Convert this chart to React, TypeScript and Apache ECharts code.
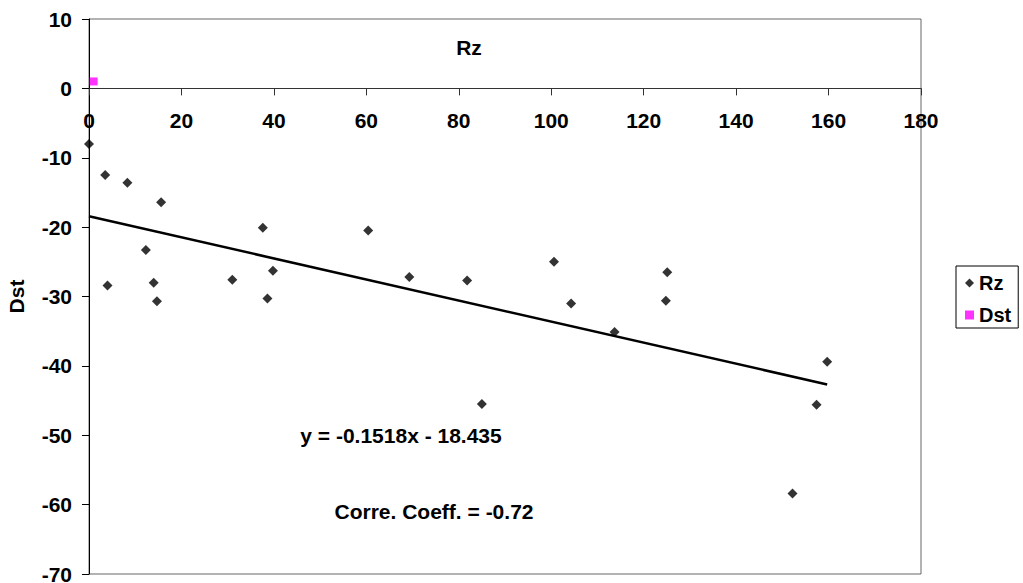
import React, { useEffect, useRef } from "react";
import * as echarts from "echarts";

// Rz (x) vs Dst (y) scatter points
const rzPoints: [number, number][] = [
  [0, -8.0],
  [3.5, -12.5],
  [8.3, -13.6],
  [15.6, -16.4],
  [12.3, -23.3],
  [4.0, -28.4],
  [14.0, -28.0],
  [14.7, -30.7],
  [31.0, -27.6],
  [37.6, -20.1],
  [38.6, -30.3],
  [39.8, -26.3],
  [60.4, -20.5],
  [69.3, -27.2],
  [81.8, -27.7],
  [85.0, -45.5],
  [100.6, -25.0],
  [104.3, -31.0],
  [113.7, -35.1],
  [124.8, -30.6],
  [125.1, -26.5],
  [152.2, -58.4],
  [157.4, -45.6],
  [159.7, -39.4],
];

const dstPoints: [number, number][] = [[1, 1]];

// Linear trend line endpoints (y = -0.1518x - 18.435)
const trendPoints: [number, number][] = [
  [0, -18.435],
  [159.7, -42.68],
];

const seriesNames = ["Rz", "Dst"];
const xAxisTitle = "Rz";
const yAxisTitle = "Dst";
const equationLabel = "y = -0.1518x - 18.435";
const corrLabel = "Corre. Coeff. = -0.72";

const FONT = 'Arial, "Liberation Sans", sans-serif';

// layout
const GRID_TOP = 19;
const GRID_H = 555;
const Y_MIN = -70;
const Y_MAX = 10;
const ZERO_OFFSET = -(GRID_H * (0 - Y_MIN)) / (Y_MAX - Y_MIN); // move x-axis up to y = 0

export default function App() {
  const ref = useRef<HTMLDivElement>(null);

  useEffect(() => {
    document.body.style.margin = "0";
    if (!ref.current) return;
    const chart = echarts.init(ref.current, null, { renderer: "svg" });
    const textBase = {
      fontFamily: FONT,
      fontWeight: "bold" as const,
      fontSize: 21,
      fill: "#000",
    };
    chart.setOption({
      animation: false,
      backgroundColor: "#fff",
      grid: {
        left: 89,
        top: GRID_TOP,
        width: 832,
        height: GRID_H,
        show: true,
        borderColor: "#666",
        borderWidth: 1,
        containLabel: false,
        outerBoundsMode: "none",
      },
      legend: {
        data: seriesNames,
        orient: "vertical",
        left: 956,
        top: 266,
        padding: [7, 7, 3, 9],
        itemGap: 12,
        itemWidth: 9,
        itemHeight: 9,
        itemTextGap: 9,
        borderColor: "#000",
        borderWidth: 1,
        backgroundColor: "#fff",
        textStyle: {
          fontFamily: FONT,
          fontWeight: "bold",
          fontSize: 20,
          color: "#000",
          lineHeight: 20,
        },
      },
      xAxis: {
        type: "value",
        position: "bottom",
        offset: ZERO_OFFSET,
        min: 0,
        max: 180,
        interval: 20,
        axisLine: { show: true, onZero: false, lineStyle: { color: "#333", width: 1 } },
        axisTick: { show: true, length: 7, lineStyle: { color: "#333" } },
        axisLabel: {
          margin: 22,
          fontFamily: FONT,
          fontWeight: "bold",
          fontSize: 21,
          color: "#000",
        },
        splitLine: { show: false },
      },
      yAxis: {
        type: "value",
        min: Y_MIN,
        max: Y_MAX,
        interval: 10,
        name: yAxisTitle,
        nameLocation: "middle",
        nameRotate: 90,
        nameGap: 62,
        nameTextStyle: {
          fontFamily: FONT,
          fontWeight: "bold",
          fontSize: 21,
          color: "#000",
        },
        axisLine: { show: true, onZero: false, lineStyle: { color: "#000", width: 1 } },
        axisTick: { show: true, length: 7, lineStyle: { color: "#000" } },
        axisLabel: {
          margin: 17,
          fontFamily: FONT,
          fontWeight: "bold",
          fontSize: 21,
          color: "#000",
        },
        splitLine: { show: false },
      },
      series: [
        {
          name: "Rz",
          type: "scatter",
          symbol: "diamond",
          symbolSize: 10,
          itemStyle: { color: "#000" },
          data: rzPoints,
        },
        {
          name: "Dst",
          type: "scatter",
          symbol: "rect",
          symbolSize: 8,
          itemStyle: { color: "#FF00FF" },
          data: dstPoints,
        },
        {
          name: "Linear (Rz)",
          type: "line",
          symbol: "none",
          silent: true,
          lineStyle: { color: "#000", width: 2.5 },
          data: trendPoints,
        },
      ],
      graphic: [
        {
          type: "text",
          x: 469,
          y: 47,
          style: { ...textBase, text: xAxisTitle, textAlign: "center", textVerticalAlign: "middle" },
        },
        {
          type: "text",
          x: 401,
          y: 435,
          style: { ...textBase, text: equationLabel, textAlign: "center", textVerticalAlign: "middle" },
        },
        {
          type: "text",
          x: 434,
          y: 511,
          style: { ...textBase, text: corrLabel, textAlign: "center", textVerticalAlign: "middle" },
        },
      ],
    });
    return () => chart.dispose();
  }, []);

  return <div ref={ref} style={{ width: 1023, height: 583 }} />;
}
